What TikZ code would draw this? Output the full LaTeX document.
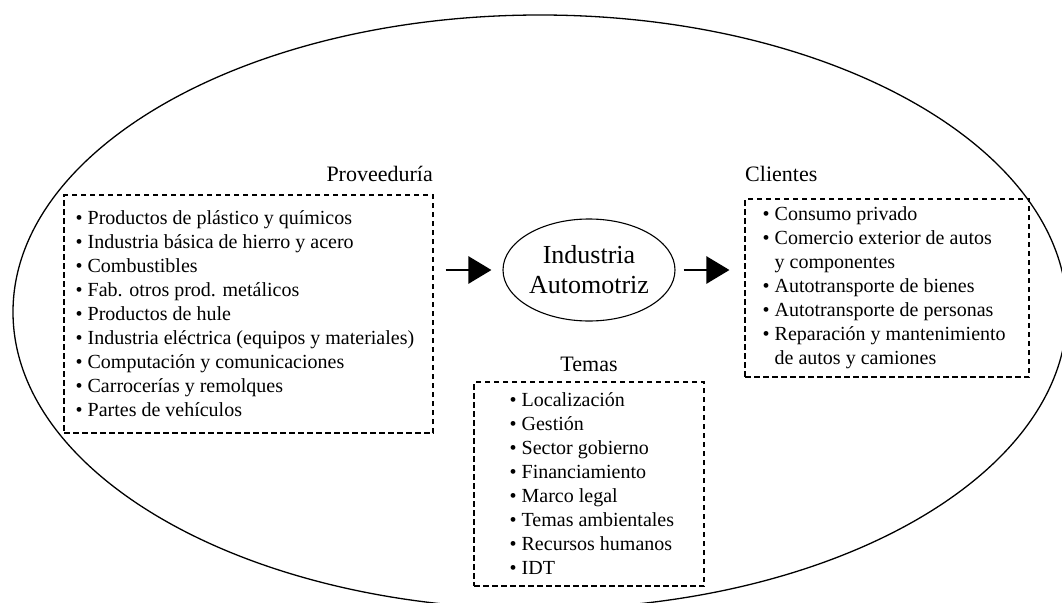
\documentclass[tikz,border=0pt]{standalone}
\usepackage{fontspec}
\setmainfont{Liberation Serif}
\usetikzlibrary{arrows.meta,shapes.geometric}
\begin{document}
\begin{tikzpicture}[x=1pt,y=-1pt,
  dbox/.style={draw, line width=1.1pt, dash pattern=on 5.5pt off 3.5pt, inner sep=0pt},
  lst/.style={align=left, inner sep=0pt, font=\fontsize{20}{24}\selectfont, anchor=west},
  lbl/.style={inner sep=0pt, font=\fontsize{22}{26}\selectfont},
  arr/.style={line width=2.6pt, -{Triangle[length=23pt,width=27pt]}}]
\useasboundingbox (0,0) rectangle (1062,602);
\clip (0,0) rectangle (1062,602);
% outer ellipse
\node[draw, ellipse, line width=1.3pt, inner sep=0pt, minimum width=1054pt, minimum height=594pt] (outer) at (540,312) {};
% Proveeduria
\node[dbox, minimum width=369pt, minimum height=238pt] (provbox) at (248.5,314) {};
\node[lbl, anchor=base east] (provlbl) at (433,181) {Proveeduría};
\node[lst] (provtext) at ([xshift=12pt]provbox.west) {%
• Productos de plástico y químicos\\
• Industria básica de hierro y acero\\
• Combustibles\\
• Fab. otros prod. metálicos\\
• Productos de hule\\
• Industria eléctrica (equipos y materiales)\\
• Computación y comunicaciones\\
• Carrocerías y remolques\\
• Partes de vehículos};
% Industria
\node[draw, ellipse, line width=1.1pt, inner sep=0pt, minimum width=172pt, minimum height=102pt,
  align=center, font=\fontsize{26}{30}\selectfont] (ind) at (589,270) {Industria\\Automotriz};
% Clientes
\node[dbox, minimum width=284pt, minimum height=178pt] (clibox) at (887,288) {};
\node[lbl, anchor=base west] (clilbl) at (745,181) {Clientes};
\node[lst] (clitext) at ([xshift=18pt]clibox.west) {%
• Consumo privado\\
• Comercio exterior de autos\\
\phantom{• }y componentes\\
• Autotransporte de bienes\\
• Autotransporte de personas\\
• Reparación y mantenimiento\\
\phantom{• }de autos y camiones};
% Temas
\node[dbox, minimum width=230pt, minimum height=204pt] (tembox) at (589,484) {};
\node[lbl, anchor=base] (temlbl) at (589,371) {Temas};
\node[lst] (temtext) at ([xshift=36pt]tembox.west) {%
• Localización\\
• Gestión\\
• Sector gobierno\\
• Financiamiento\\
• Marco legal\\
• Temas ambientales\\
• Recursos humanos\\
• IDT};
% arrows
\draw[arr, shorten <=12pt, shorten >=11pt] (provbox.east |- ind.west) -- (ind.west);
\draw[arr, shorten <=8pt, shorten >=15pt] (ind.east) -- (ind.east -| clibox.west);
\end{tikzpicture}
\end{document}
